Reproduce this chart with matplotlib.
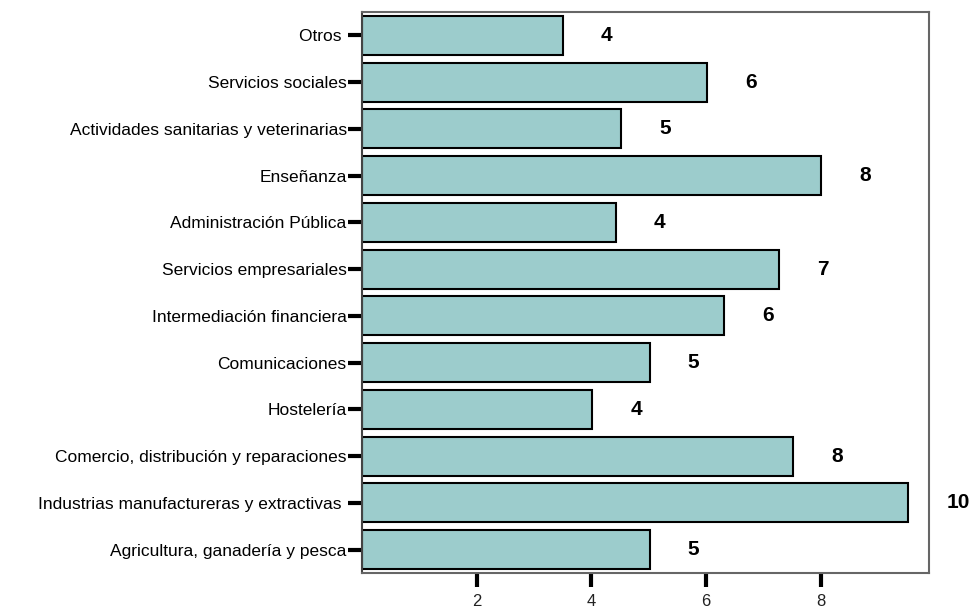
import matplotlib.pyplot as plt
import numpy as np

plt.rcParams['font.family'] = ['Liberation Sans', 'DejaVu Sans']

# categories, top to bottom as drawn
categories = [
    "Otros ",
    "Servicios sociales",
    "Actividades sanitarias y veterinarias",
    "Enseñanza",
    "Administración Pública",
    "Servicios empresariales",
    "Intermediación financiera",
    "Comunicaciones",
    "Hostelería",
    "Comercio, distribución y reparaciones",
    "Industrias manufactureras y extractivas ",
    "Agricultura, ganadería y pesca",
]
values = [3.51, 6.02, 4.52, 8.01, 4.43, 7.28, 6.32, 5.02, 4.02, 7.52, 9.53, 5.02]
xticks = [2, 4, 6, 8]

fig = plt.figure(figsize=(9.76, 6.08), dpi=100)
ax = fig.add_axes([0.3709, 0.0576, 0.5809, 0.9227])

y = np.arange(len(categories))
ax.barh(y, values, height=0.83, color='#9ccccc', edgecolor='black', linewidth=1.5)

# value labels, rounded like the source
for yi, v in zip(y, values):
    ax.text(v + 0.66, yi, f"{round(v):d}", va='center', ha='left',
            fontsize=15, fontweight='bold')

ax.set_ylim(len(categories) - 0.5, -0.5)
ax.set_xlim(0, 9.89)
ax.set_yticks(y)
ax.set_yticklabels(categories, fontsize=12.5)
ax.set_xticks(xticks)
ax.set_xticklabels([str(t) for t in xticks], fontsize=12)

ax.tick_params(axis='y', length=10, width=3, pad=1, color='black')
ax.tick_params(axis='x', length=10, width=3, pad=5, color='black', labelcolor='#222222')

for side in ['top', 'right', 'bottom']:
    ax.spines[side].set_color('#666666')
    ax.spines[side].set_linewidth(1.5)
ax.spines['left'].set_color('#444444')
ax.spines['left'].set_linewidth(1.5)

plt.savefig('out.png', dpi=100)
